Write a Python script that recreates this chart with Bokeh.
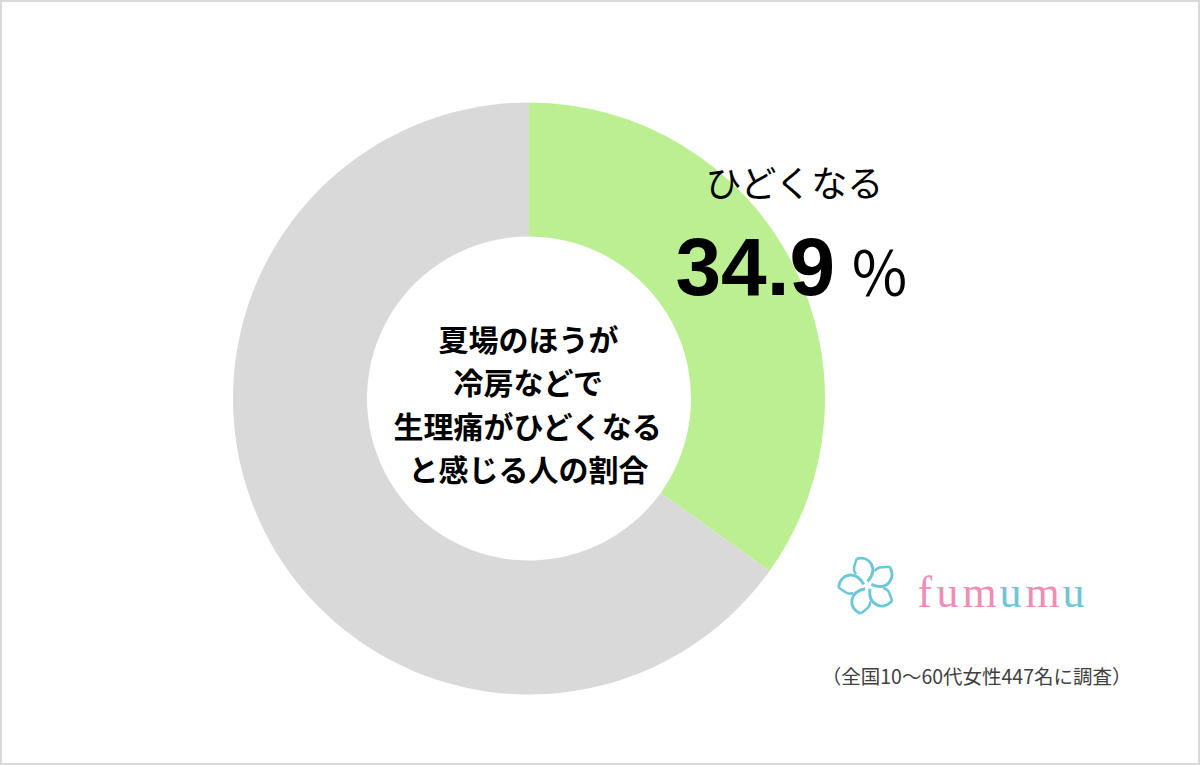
import numpy as np
from bokeh.plotting import figure
from bokeh.models import Range1d, ColumnDataSource
from bokeh.core.properties import value
from bokeh.embed import file_html
from bokeh.resources import INLINE

# ---- data ----
categories = ["ひどくなる", "その他"]
shares = [34.9, 65.1]
slice_colors = ["#bbef92", "#d9d9d9"]
title_lines = ["夏場のほうが", "冷房などで", "生理痛がひどくなる", "と感じる人の割合"]
highlight_label = "ひどくなる"
highlight_value = "34.9"
note = "（全国10〜60代女性447名に調査）"
brand = "fumumu"
brand_colors = ["#f08db6", "#f08db6", "#f08db6", "#6cc7d6", "#f08db6", "#6cc7d6"]

W, H = 1200, 765
JP = value("Noto Sans CJK JP")

p = figure(width=W, height=H, x_range=Range1d(0, W), y_range=Range1d(0, H),
           min_border=0, toolbar_location=None, output_backend="svg")
p.axis.visible = False
p.grid.visible = False
p.background_fill_color = "white"
p.border_fill_color = "white"
p.outline_line_color = "#d9d9d9"
p.outline_line_width = 3

def Y(y):
    return H - y

cx, cy = 528.5, Y(398)
r_out, r_in = 296, 162

fr = np.array(shares) / sum(shares)
cum = np.concatenate([[0], np.cumsum(fr)])
start = np.pi / 2 - 2 * np.pi * cum[:-1]
end = np.pi / 2 - 2 * np.pi * cum[1:]
src = ColumnDataSource(dict(x=[cx] * len(shares), y=[cy] * len(shares),
                            start=start, end=end, color=slice_colors, cat=categories))
p.annular_wedge(x="x", y="y", inner_radius=r_in, outer_radius=r_out,
                start_angle="start", end_angle="end", direction="clock",
                fill_color="color", line_color=None, source=src)

# center title
for i, line in enumerate(title_lines):
    p.text(x=[528], y=[Y(337 + i * 43.5)], text=[line], text_font=JP,
           text_font_style="bold", text_font_size="30px", text_align="center",
           text_baseline="middle", text_color="#000000")

# highlight label
p.text(x=[705], y=[Y(180)], text=[highlight_label], text_font=JP,
       text_font_size="36px", text_align="left", text_baseline="middle",
       text_color="#000000")
p.text(x=[675], y=[Y(266)], text=[highlight_value], text_font=value("Liberation Sans"),
       text_font_style="bold", text_font_size="82px", text_align="left",
       text_baseline="alphabetic", text_color="#000000")
p.text(x=[849], y=[Y(269)], text=["％"], text_font=JP,
       text_font_size="60px", text_align="left", text_baseline="alphabetic",
       text_color="#000000")

# note
p.text(x=[1131], y=[Y(675)], text=[note], text_font=JP, text_font_size="19.5px",
       text_align="right", text_baseline="middle", text_color="#404040")

# brand logo text
bx = 917
adv = {"f": 19, "u": 26, "m": 37}
for ch, col in zip(brand, brand_colors):
    p.text(x=[bx], y=[Y(592)], text=[ch], text_font=value("Liberation Serif"),
           text_font_size="44px", text_align="left", text_baseline="alphabetic",
           text_color=col)
    bx += adv[ch]

# brand flower icon (swirl petals)
fx, fy = 867, Y(585)
for k in range(5):
    a = np.deg2rad(90 + k * 72)
    def pt(r, da):
        return fx + r * np.cos(a + np.deg2rad(da)), fy + r * np.sin(a + np.deg2rad(da))
    x0, y0 = pt(4, 0)
    x1, y1 = pt(29, 22)
    c0x, c0y = pt(20, -35)
    c1x, c1y = pt(30, -5)
    p.bezier(x0=[x0], y0=[y0], x1=[x1], y1=[y1], cx0=[c0x], cy0=[c0y],
             cx1=[c1x], cy1=[c1y], line_color="#6cc7d6", line_width=3)
    x2, y2 = pt(16, 45)
    p.bezier(x0=[x1], y0=[y1], x1=[x2], y1=[y2], cx0=[pt(24, 32)[0]], cy0=[pt(24, 32)[1]],
             cx1=[pt(22, 45)[0]], cy1=[pt(22, 45)[1]], line_color="#6cc7d6", line_width=2.5)

open("out.html", "w").write(file_html(p, INLINE))
